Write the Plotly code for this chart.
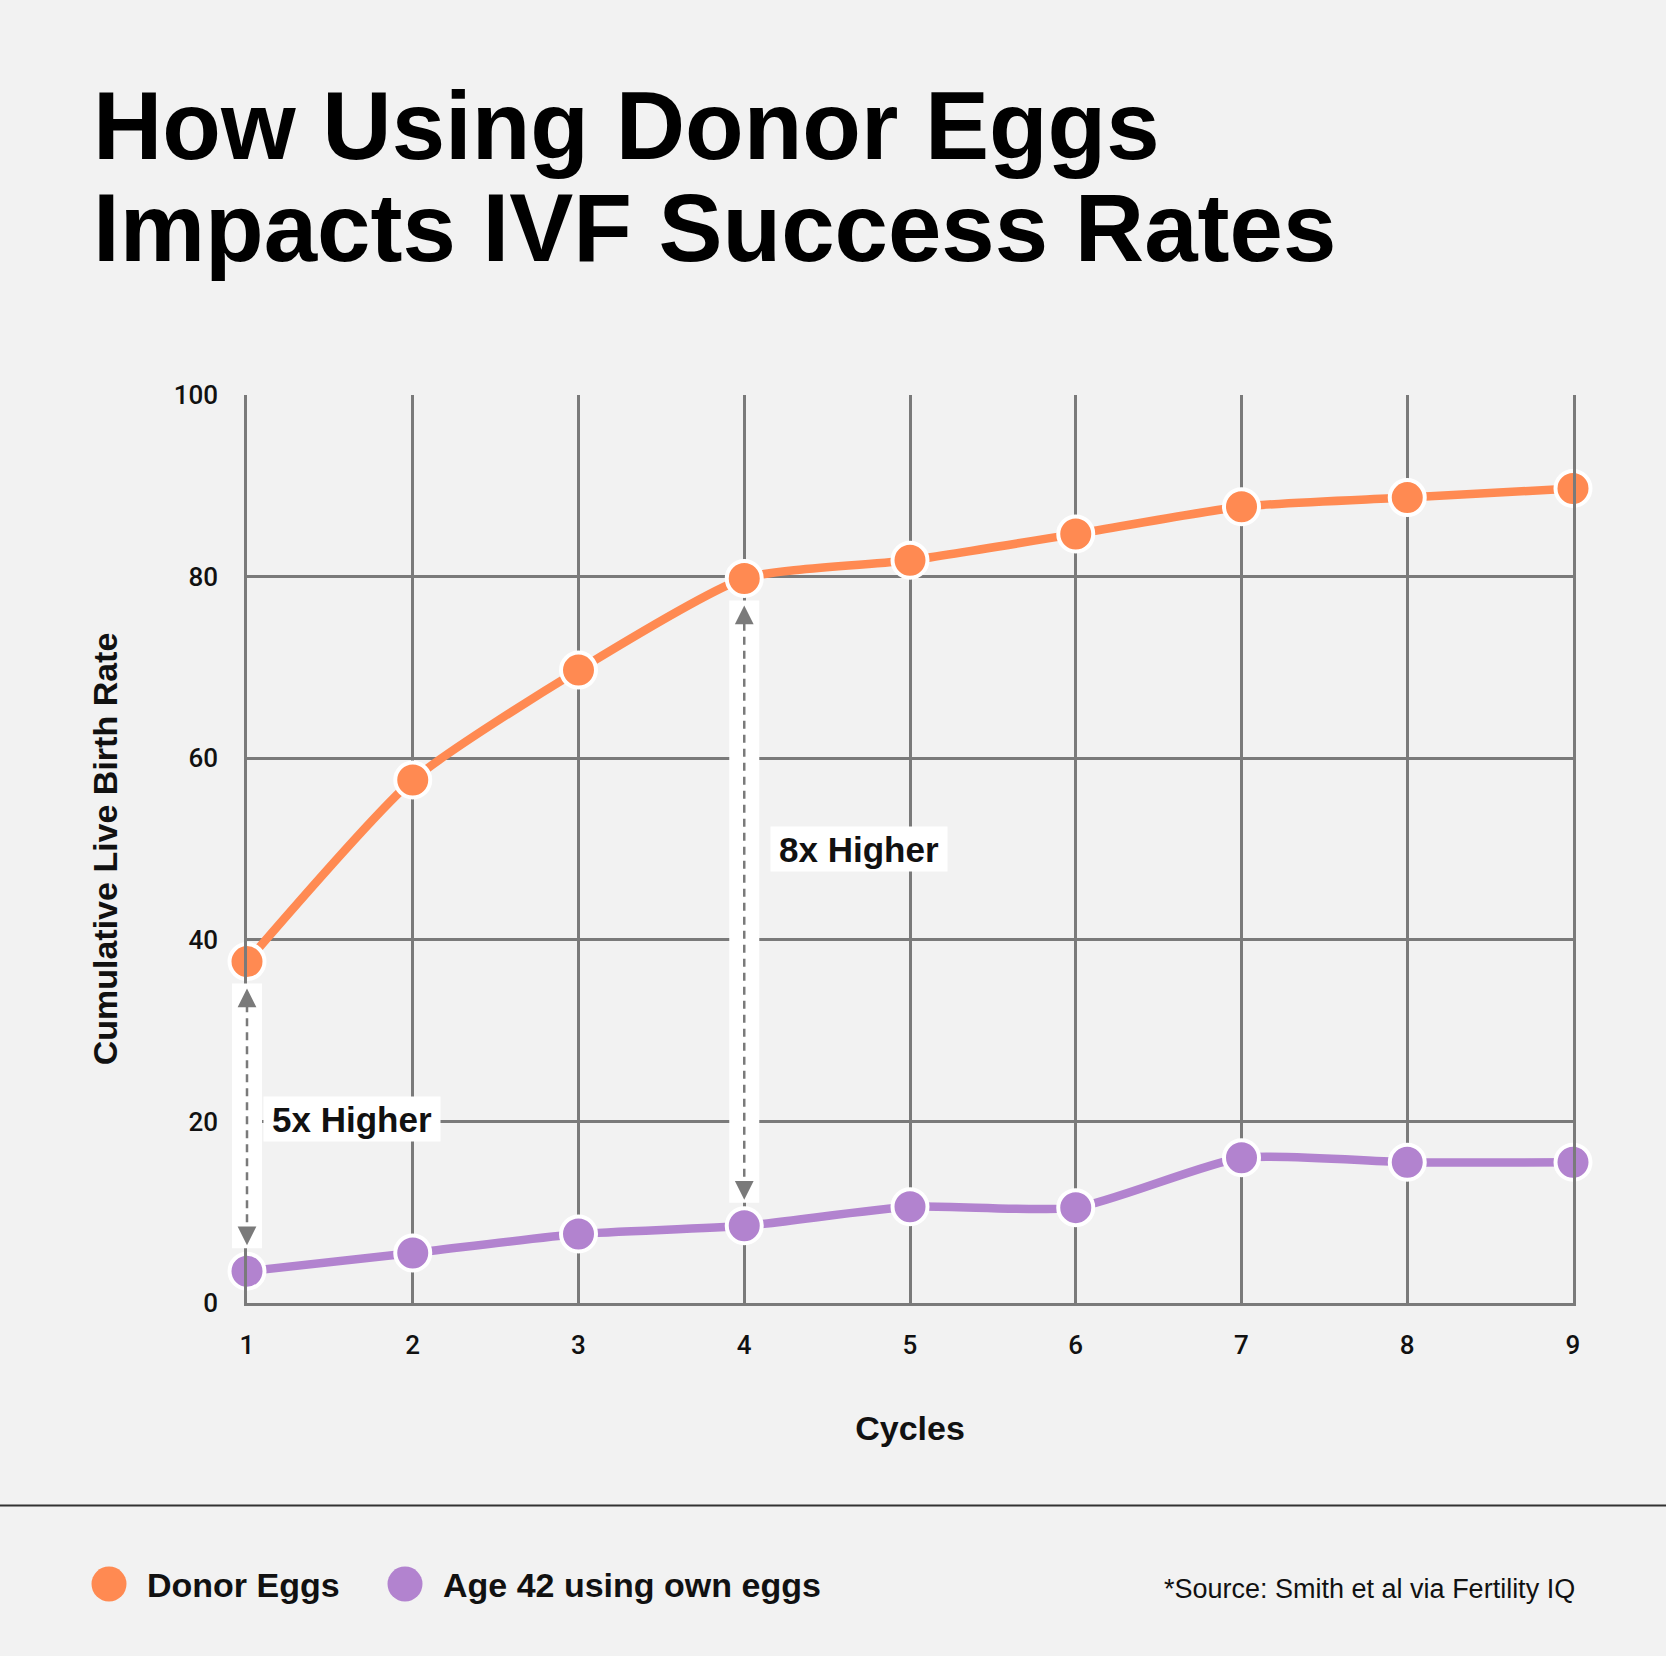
import plotly.graph_objects as go

# ---------------- data ----------------
cycles = [1, 2, 3, 4, 5, 6, 7, 8, 9]
donor_eggs = [37.6, 57.6, 69.7, 79.8, 81.8, 84.7, 87.7, 88.7, 89.7]
own_eggs_age42 = [3.5, 5.5, 7.6, 8.5, 10.6, 10.5, 16.0, 15.5, 15.5]
y_ticks = [0, 20, 40, 60, 80, 100]
series_names = ["Donor Eggs", "Age 42 using own eggs"]
callout_cycles = [1, 4]
callout_labels = ["5x Higher", "8x Higher"]
title_lines = ["How Using Donor Eggs", "Impacts IVF Success Rates"]
source_text = "*Source: Smith et al via Fertility IQ"
x_title = "Cycles"
y_title = "Cumulative Live Birth Rate"

# ---------------- style ----------------
W, H = 1666, 1656
L, R, T, B = 247, 93, 395, 353
PW, PH = W - L - R, H - T - B
BG = "#F2F2F2"
ORANGE = "#FF8A52"
PURPLE = "#B283CF"
GRID = "#7A7A7A"
FONT = "Liberation Sans, Arial, sans-serif"
TICKFONT = "Roboto, Liberation Sans, Arial, sans-serif"
XMIN, XMAX = cycles[0], cycles[-1]


def px_x(px):
    return (px - L) / PW


def px_y(py):
    return (H - B - py) / PH


def dom_x(v):
    return (v - XMIN) / (XMAX - XMIN)


fig = go.Figure()

for name, vals, col in [(series_names[0], donor_eggs, ORANGE),
                        (series_names[1], own_eggs_age42, PURPLE)]:
    fig.add_trace(go.Scatter(
        x=cycles, y=vals, name=name, mode="lines+markers",
        line=dict(color=col, width=8.5, shape="spline", smoothing=0.6),
        marker=dict(size=35, color=col, line=dict(color="white", width=4)),
        showlegend=False, cliponaxis=False,
    ))

# callouts: white strip, dashed double arrow, label box
y_per_px = 100 / PH
for cyc, lab, lx, ly in zip(callout_cycles, callout_labels, [1.098, 4.157], [20.3, 50]):
    i = cycles.index(cyc)
    top = donor_eggs[i]
    bot = own_eggs_age42[i]
    strip_top = top - 22 * y_per_px
    strip_bot = bot + 23 * y_per_px
    tip_top = top - 27 * y_per_px
    tip_bot = bot + 26 * y_per_px
    fig.add_shape(type="rect", xref="x domain", yref="y", xsizemode="pixel",
                  xanchor=dom_x(cyc), x0=-15, x1=15, y0=strip_bot, y1=strip_top,
                  fillcolor="white", line=dict(width=0), layer="above")
    fig.add_shape(type="line", xref="x domain", yref="y", x0=dom_x(cyc), x1=dom_x(cyc),
                  y0=tip_bot + 1.0, y1=tip_top - 1.0,
                  line=dict(color=GRID, width=2.5, dash="8px,6px"), layer="above")
    for tip, off in [(tip_top, 16), (tip_bot, -16)]:
        fig.add_annotation(x=cyc, y=tip, xref="x", yref="y", text="",
                           showarrow=True, ax=0, ay=off, axref="pixel", ayref="pixel",
                           arrowhead=2, arrowsize=1.5, arrowwidth=2.5,
                           arrowcolor=GRID, standoff=0, startstandoff=0)
    fig.add_annotation(x=lx, y=ly, xref="x", yref="y", text="<b>%s</b>" % lab,
                       showarrow=False, xanchor="left", yanchor="middle",
                       bgcolor="white", borderpad=2, width=172, height=40,
                       font=dict(family=FONT, size=35, color="#111111"))

# title
for line, cy in zip(title_lines, [125.5, 227.5]):
    fig.add_annotation(x=px_x(91), y=px_y(cy), xref="paper", yref="paper",
                       text="<b>%s</b>" % line, showarrow=False,
                       xanchor="left", yanchor="middle",
                       font=dict(family=FONT, size=96, color="#000000"))

# separator line
fig.add_shape(type="line", xref="paper", yref="paper",
              x0=px_x(0), x1=px_x(W), y0=px_y(1505.5), y1=px_y(1505.5),
              line=dict(color="#333333", width=2))

# legend (manual)
for name, col, cx, tx in [(series_names[0], ORANGE, 109, 147),
                          (series_names[1], PURPLE, 405, 443)]:
    fig.add_shape(type="circle", xref="paper", yref="paper",
                  xsizemode="pixel", ysizemode="pixel",
                  xanchor=px_x(cx), yanchor=px_y(1584),
                  x0=-17.5, x1=17.5, y0=-17.5, y1=17.5,
                  fillcolor=col, line=dict(width=0))
    fig.add_annotation(x=px_x(tx - 2), y=px_y(1585), xref="paper", yref="paper",
                       text="<b>%s</b>" % name, showarrow=False,
                       xanchor="left", yanchor="middle",
                       font=dict(family=FONT, size=34, color="#111111"))

fig.add_annotation(x=px_x(1577), y=px_y(1589), xref="paper", yref="paper",
                   text=source_text, showarrow=False,
                   xanchor="right", yanchor="middle",
                   font=dict(family=FONT, size=27, color="#111111"))

fig.update_layout(
    width=W, height=H, autosize=False,
    margin=dict(l=L, r=R, t=T, b=B, pad=0),
    paper_bgcolor=BG, plot_bgcolor=BG,
    font=dict(family=FONT, color="#111111"),
    showlegend=False,
    xaxis=dict(
        range=[XMIN, XMAX], tickvals=cycles, showgrid=True, gridcolor=GRID, gridwidth=2.5,
        showline=True, linecolor=GRID, linewidth=2.5, zeroline=False,
        ticks="", ticklabelstandoff=17,
        tickfont=dict(family=TICKFONT, size=26, color="#111111", weight=500),
        title=dict(text="<b>%s</b>" % x_title, standoff=58,
                   font=dict(family=FONT, size=34, color="#111111")),
        fixedrange=True,
    ),
    yaxis=dict(
        range=[0, 100], tickvals=y_ticks, showgrid=False,
        minor=dict(tickvals=y_ticks[1:-1], showgrid=True, gridcolor=GRID, gridwidth=2.5,
                   ticks=""),
        showline=True, mirror=True, linecolor=GRID, linewidth=2.5, zeroline=False,
        ticks="", ticklabelstandoff=21,
        tickfont=dict(family=TICKFONT, size=26, color="#111111", weight=500),
        title=dict(text="<b>%s</b>" % y_title, standoff=46,
                   font=dict(family=FONT, size=34, color="#111111")),
        fixedrange=True,
    ),
)

fig.write_html(
    "out.html",
    config={"displayModeBar": False},
    post_script="document.body.style.margin='0';document.body.style.padding='0';"
                "document.body.style.overflow='hidden';",
)
